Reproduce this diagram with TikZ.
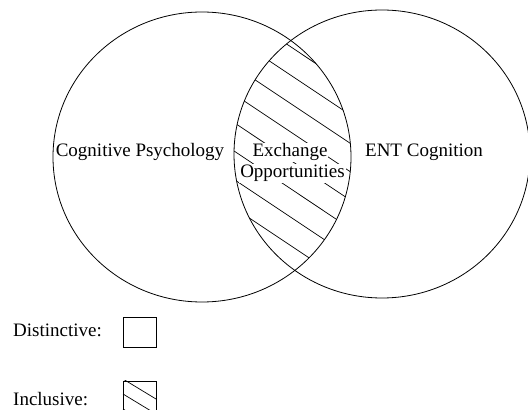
\documentclass[tikz,border=0pt]{standalone}
\usepackage{fontspec}
\setmainfont{Liberation Serif}

\begin{document}
\begin{tikzpicture}[x=1pt,y=1pt,
		settext/.style={font=\fontsize{19}{21}\selectfont, inner sep=0pt, anchor=base},
		lenstext/.style={settext, fill=white, inner sep=1pt},
		hatchline/.style={line width=0.7pt},
		setline/.style={line width=0.8pt},
	]
	\clip (0,0) rectangle (528,410);
	\def\psychset{(202,253) ellipse [x radius=149, y radius=145]}
	\def\entset{(382,256) ellipse [x radius=148, y radius=144]}
	%
	% hatching of the shared part
	\begin{scope}
		\clip \psychset;
		\clip \entset;
		\foreach \k in {0,...,7}
			\draw[hatchline] (200,{423.7-28.4*\k}) -- (400,{290.3-28.4*\k});
	\end{scope}
	%
	\node[settext] (psych) at (140,253) {Cognitive Psychology};
	\node[lenstext] (exch) at (290,253) {Exchange};
	\node[lenstext] (opp) at (292.5,232) {Opportunities};
	\node[settext] (ent) at (424,253) {ENT Cognition};
	%
	\draw[setline] \psychset;
	\draw[setline] \entset;
	%
	% legend
	\node[settext, anchor=base west] (distinct) at (13,73) {Distinctive:};
	\node[settext, anchor=base west] (inclusive) at (13,5) {Inclusive:};
	\node[draw, setline, minimum width=33pt, minimum height=30pt, inner sep=0pt] (distbox) at (139.5,78) {};
	\node[draw, setline, minimum width=33pt, minimum height=30pt, inner sep=0pt] (inclbox) at (139.5,14) {};
	\begin{scope}
		\clip (inclbox.south west) rectangle (inclbox.north east);
		\foreach \k in {0,...,2}
			\draw[hatchline] (123,{31-15*\k}) -- (156,{11-15*\k});
	\end{scope}
\end{tikzpicture}
\end{document}
